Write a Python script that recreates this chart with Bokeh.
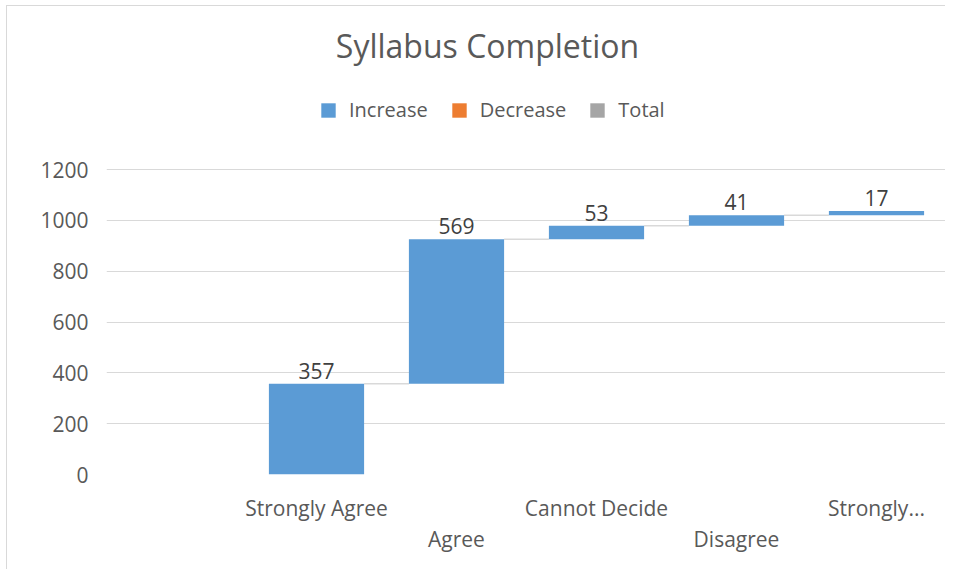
import numpy as np
from bokeh.plotting import figure
from bokeh.models import (ColumnDataSource, LinearAxis, FixedTicker, Range1d,
                          Legend, LegendItem, LabelSet, Label)
from bokeh.core.properties import value
from bokeh.embed import file_html
from bokeh.resources import INLINE

# ---- data ----
title_text = "Syllabus Completion"
categories = ["", "Strongly Agree", "Agree", "Cannot Decide", "Disagree", "Strongly..."]
values = [0, 357, 569, 53, 41, 17]
series_names = ["Increase", "Decrease", "Total"]
series_colors = ["#5B9BD5", "#ED7D31", "#A5A5A5"]
y_ticks = [0, 200, 400, 600, 800, 1000, 1200]
y_axis_max = 1200

FONT = "Open Sans"
TXT = "#595959"
GRID = "#D9D9D9"

# ---- layout (pixels, page coordinates) ----
OFF_X, OFF_Y = 7, 6           # chart-area border position
FRAME_L, FRAME_R = 106, 946
FRAME_B = 474                 # y of the 0 line
TOP_GRID = 169                # y of the 1200 line
W = FRAME_R - OFF_X
H = 564
pad_bottom = OFF_Y + H - FRAME_B
frame_h = FRAME_B - OFF_Y
y_range_end = y_axis_max * frame_h / (FRAME_B - TOP_GRID)

n = len(categories)
centers = np.arange(n) + 0.5
ends = np.cumsum(values)
starts = ends - np.array(values)
bar_w = 0.68

shown = [i for i in range(n) if values[i] != 0]
bars = ColumnDataSource(dict(
    x=[centers[i] for i in shown],
    bottom=[starts[i] for i in shown],
    top=[ends[i] for i in shown],
    label=[str(values[i]) for i in shown],
))

conn = ColumnDataSource(dict(
    x0=[centers[i] + bar_w / 2 for i in shown[:-1]],
    x1=[centers[shown[k + 1]] - bar_w / 2 for k, i in enumerate(shown[:-1])],
    y=[ends[i] for i in shown[:-1]],
))

p = figure(width=W, height=H, output_backend="svg", toolbar_location=None,
           title=None,
           x_range=Range1d(0, n), y_range=Range1d(0, y_range_end),
           min_border_left=FRAME_L - OFF_X, min_border_right=0, min_border_top=0,
           min_border_bottom=pad_bottom, x_axis_location=None, y_axis_location=None)
p.styles = {"margin-left": f"{OFF_X - 1}px", "margin-top": f"{OFF_Y - 1}px",
            "border-left": "1px solid #D9D9D9", "border-top": "1px solid #D9D9D9"}
p.outline_line_color = None
p.background_fill_color = "white"
p.border_fill_color = "white"

# y axis
yax = LinearAxis(ticker=FixedTicker(ticks=y_ticks))
yax.axis_line_color = None
yax.major_tick_line_color = None
yax.minor_tick_line_color = None
yax.major_tick_in = 0
yax.major_tick_out = 0
yax.major_label_text_font = FONT
yax.major_label_text_font_size = "21px"
yax.major_label_text_color = TXT
yax.major_label_standoff = 18
p.add_layout(yax, "left")

p.xgrid.visible = False
p.ygrid.ticker = FixedTicker(ticks=y_ticks)
p.ygrid.grid_line_color = GRID
p.ygrid.grid_line_width = 1

# staggered category axes
row1 = [i for i in range(n) if i % 2 == 1]
row2 = [i for i in range(n) if i % 2 == 0]
for rows, standoff in ((row1, 19), (row2, 0)):
    ax = LinearAxis(ticker=FixedTicker(ticks=[float(centers[i]) for i in rows]))
    ax.major_label_overrides = {float(centers[i]): categories[i] for i in rows}
    ax.axis_line_color = None
    ax.major_tick_line_color = None
    ax.minor_tick_line_color = None
    ax.major_tick_in = 0
    ax.major_tick_out = 0
    ax.major_label_text_font = FONT
    ax.major_label_text_font_size = "21px"
    ax.major_label_text_color = TXT
    ax.major_label_standoff = standoff
    p.add_layout(ax, "below")

# connectors
p.segment(x0="x0", x1="x1", y0="y", y1="y", source=conn, line_color=GRID, line_width=1.5)

# bars
r_inc = p.vbar(x="x", bottom="bottom", top="top", width=bar_w, source=bars,
               fill_color=series_colors[0], line_color=None)
# no decrease / total bars in this chart: zero-height entries only feed the legend
none_src = ColumnDataSource(dict(x=[float(centers[0])], bottom=[0], top=[0]))
r_dec = p.vbar(x="x", bottom="bottom", top="top", width=bar_w, source=none_src,
               fill_color=series_colors[1], line_color=None)
r_tot = p.vbar(x="x", bottom="bottom", top="top", width=bar_w, source=none_src,
               fill_color=series_colors[2], line_color=None)

# data labels
labels = LabelSet(x="x", y="top", text="label", source=bars, y_offset=13,
                  text_align="center", text_baseline="middle",
                  text_font=value(FONT), text_font_size="21px", text_color="#404040")
p.add_layout(labels)

# legend (frame-relative: x from frame left, y from frame bottom to legend bottom)
legend = Legend(items=[LegendItem(label=series_names[0], renderers=[r_inc]),
                       LegendItem(label=series_names[1], renderers=[r_dec]),
                       LegendItem(label=series_names[2], renderers=[r_tot])],
                orientation="horizontal", location=(213, 351),
                padding=0, margin=0, spacing=22, glyph_width=18, glyph_height=18,
                label_standoff=12, label_text_font=FONT, label_text_font_size="20px",
                label_text_color=TXT, border_line_color=None, background_fill_alpha=0)
p.add_layout(legend)

# title
t = Label(x=487 - FRAME_L, y=FRAME_B - 45, x_units="screen", y_units="screen",
          text=title_text, text_align="center", text_baseline="middle", text_font=FONT,
          text_font_size="32px", text_color=TXT)
p.add_layout(t)

open("out.html", "w").write(file_html(p, INLINE))
